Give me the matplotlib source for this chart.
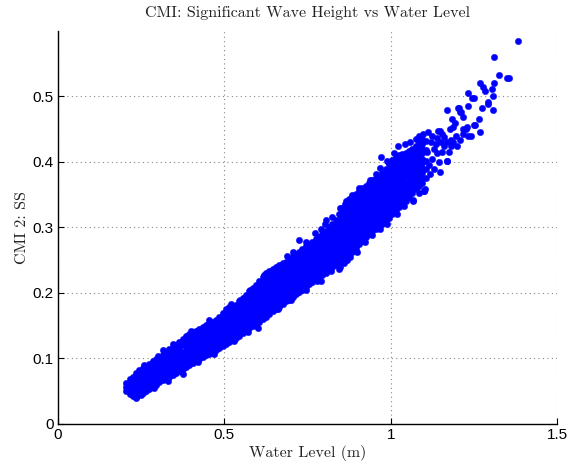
import matplotlib
matplotlib.use("Agg")
import matplotlib.pyplot as plt

# ---------------- data ----------------
title = "CMI: Significant Wave Height vs Water Level"
x_label = "Water Level (m)"
y_label = "CMI 2: SS"
x_ticks = [0, 0.5, 1, 1.5]
x_tick_labels = ["0", "0.5", "1", "1.5"]
y_ticks = [0, 0.1, 0.2, 0.3, 0.4, 0.5]
y_tick_labels = ["0", "0.1", "0.2", "0.3", "0.4", "0.5"]

# dense part of the cloud: water level of each column, and wave heights in it
band_x = [0.205, 0.215, 0.225, 0.235, 0.245, 0.255, 0.265, 0.275, 0.285, 0.295,
          0.305, 0.315, 0.325, 0.335, 0.345, 0.355, 0.365, 0.375, 0.385, 0.395,
          0.405, 0.415, 0.425, 0.435, 0.445, 0.455, 0.465, 0.475, 0.485, 0.495,
          0.505, 0.515, 0.525, 0.535, 0.545, 0.555, 0.565, 0.575, 0.585, 0.595,
          0.605, 0.615, 0.625, 0.635, 0.645, 0.655, 0.665, 0.675, 0.685, 0.695,
          0.705, 0.715, 0.725, 0.735, 0.745, 0.755, 0.765, 0.775, 0.785, 0.795,
          0.805, 0.815, 0.825, 0.835, 0.845, 0.855, 0.865, 0.875, 0.885, 0.895,
          0.905, 0.915, 0.925, 0.935, 0.945, 0.955, 0.965, 0.975, 0.985, 0.995,
          1.005, 1.015, 1.025, 1.035, 1.045, 1.055, 1.065, 1.075, 1.085, 1.095,
          1.105]
band_y = [
    [0.050, 0.056, 0.062],
    [0.046, 0.054, 0.061, 0.068],
    [0.043, 0.051, 0.058, 0.065, 0.072],
    [0.041, 0.049, 0.057, 0.064, 0.071, 0.078],
    [0.046, 0.053, 0.060, 0.068, 0.075, 0.082],
    [0.048, 0.056, 0.063, 0.070, 0.078, 0.085],
    [0.051, 0.058, 0.066, 0.073, 0.081, 0.088],
    [0.054, 0.061, 0.069, 0.077, 0.085, 0.092],
    [0.057, 0.065, 0.073, 0.081, 0.089, 0.096],
    [0.060, 0.068, 0.076, 0.084, 0.092, 0.099],
    [0.064, 0.072, 0.080, 0.087, 0.095, 0.102],
    [0.067, 0.075, 0.083, 0.091, 0.099, 0.106],
    [0.069, 0.077, 0.085, 0.094, 0.102, 0.110],
    [0.072, 0.080, 0.089, 0.097, 0.106, 0.114],
    [0.075, 0.083, 0.092, 0.100, 0.109, 0.118],
    [0.078, 0.086, 0.095, 0.104, 0.112, 0.121],
    [0.081, 0.089, 0.098, 0.107, 0.116, 0.125],
    [0.084, 0.092, 0.101, 0.110, 0.120, 0.130],
    [0.087, 0.095, 0.103, 0.111, 0.119, 0.127, 0.134],
    [0.090, 0.098, 0.106, 0.114, 0.122, 0.130, 0.138],
    [0.093, 0.101, 0.109, 0.117, 0.125, 0.133, 0.140],
    [0.096, 0.104, 0.112, 0.119, 0.127, 0.135, 0.142],
    [0.099, 0.107, 0.114, 0.122, 0.130, 0.138, 0.145],
    [0.102, 0.110, 0.117, 0.125, 0.133, 0.141, 0.148],
    [0.105, 0.113, 0.120, 0.128, 0.136, 0.144, 0.151],
    [0.107, 0.115, 0.123, 0.131, 0.139, 0.147, 0.154],
    [0.110, 0.118, 0.125, 0.133, 0.141, 0.149, 0.156],
    [0.113, 0.121, 0.128, 0.136, 0.144, 0.152, 0.159],
    [0.116, 0.124, 0.132, 0.140, 0.148, 0.156, 0.164],
    [0.119, 0.127, 0.135, 0.144, 0.152, 0.161, 0.170],
    [0.122, 0.130, 0.138, 0.145, 0.153, 0.161, 0.169, 0.176],
    [0.125, 0.133, 0.140, 0.148, 0.156, 0.163, 0.171, 0.178],
    [0.128, 0.135, 0.143, 0.150, 0.158, 0.165, 0.173, 0.180],
    [0.132, 0.139, 0.146, 0.154, 0.161, 0.168, 0.175, 0.182],
    [0.135, 0.142, 0.150, 0.157, 0.165, 0.172, 0.180, 0.187],
    [0.139, 0.147, 0.154, 0.162, 0.169, 0.177, 0.184, 0.192],
    [0.142, 0.150, 0.158, 0.166, 0.173, 0.181, 0.189, 0.197],
    [0.146, 0.154, 0.162, 0.170, 0.178, 0.186, 0.195, 0.203],
    [0.150, 0.158, 0.166, 0.174, 0.182, 0.191, 0.199, 0.207],
    [0.153, 0.160, 0.168, 0.175, 0.183, 0.190, 0.197, 0.205, 0.212],
    [0.156, 0.164, 0.172, 0.179, 0.187, 0.195, 0.202, 0.210, 0.218],
    [0.160, 0.168, 0.176, 0.184, 0.192, 0.200, 0.208, 0.216, 0.224],
    [0.164, 0.172, 0.180, 0.189, 0.197, 0.205, 0.213, 0.222, 0.230],
    [0.168, 0.176, 0.184, 0.193, 0.201, 0.209, 0.217, 0.226, 0.234],
    [0.172, 0.180, 0.188, 0.196, 0.204, 0.213, 0.221, 0.229, 0.237],
    [0.176, 0.184, 0.192, 0.200, 0.208, 0.216, 0.224, 0.232, 0.240],
    [0.179, 0.187, 0.195, 0.203, 0.211, 0.218, 0.226, 0.234, 0.242],
    [0.183, 0.191, 0.199, 0.206, 0.214, 0.222, 0.229, 0.237, 0.245],
    [0.187, 0.195, 0.202, 0.210, 0.218, 0.225, 0.233, 0.240, 0.248],
    [0.190, 0.198, 0.206, 0.213, 0.221, 0.229, 0.237, 0.244, 0.252],
    [0.194, 0.202, 0.210, 0.217, 0.225, 0.233, 0.241, 0.248, 0.256],
    [0.198, 0.206, 0.213, 0.221, 0.229, 0.236, 0.244, 0.251, 0.259],
    [0.202, 0.210, 0.217, 0.225, 0.232, 0.240, 0.248, 0.255, 0.263],
    [0.205, 0.213, 0.221, 0.228, 0.236, 0.244, 0.252, 0.259, 0.267],
    [0.209, 0.217, 0.225, 0.232, 0.240, 0.248, 0.256, 0.263, 0.271],
    [0.213, 0.221, 0.229, 0.236, 0.244, 0.252, 0.260, 0.267, 0.275],
    [0.217, 0.225, 0.232, 0.240, 0.248, 0.255, 0.263, 0.270, 0.278],
    [0.221, 0.229, 0.236, 0.244, 0.252, 0.259, 0.267, 0.274, 0.282],
    [0.224, 0.232, 0.240, 0.247, 0.255, 0.263, 0.271, 0.278, 0.286],
    [0.228, 0.236, 0.244, 0.251, 0.259, 0.267, 0.275, 0.282, 0.290],
    [0.231, 0.239, 0.247, 0.255, 0.263, 0.270, 0.278, 0.286, 0.294],
    [0.235, 0.243, 0.251, 0.259, 0.268, 0.276, 0.284, 0.292, 0.300],
    [0.239, 0.246, 0.254, 0.261, 0.269, 0.276, 0.284, 0.291, 0.299, 0.306],
    [0.242, 0.250, 0.258, 0.265, 0.273, 0.281, 0.289, 0.296, 0.304, 0.312],
    [0.245, 0.253, 0.261, 0.270, 0.278, 0.287, 0.295, 0.303, 0.312, 0.320],
    [0.248, 0.256, 0.264, 0.273, 0.281, 0.289, 0.297, 0.305, 0.314, 0.322, 0.330],
    [0.251, 0.259, 0.267, 0.275, 0.283, 0.291, 0.300, 0.308, 0.316, 0.324, 0.332, 0.340],
    [0.256, 0.264, 0.272, 0.280, 0.288, 0.296, 0.303, 0.311, 0.319, 0.327, 0.335, 0.343],
    [0.262, 0.270, 0.278, 0.285, 0.293, 0.301, 0.309, 0.316, 0.324, 0.332, 0.340, 0.347],
    [0.268, 0.276, 0.283, 0.291, 0.298, 0.306, 0.313, 0.321, 0.328, 0.336, 0.343, 0.351],
    [0.274, 0.282, 0.289, 0.297, 0.304, 0.312, 0.319, 0.326, 0.333, 0.341, 0.348, 0.355],
    [0.280, 0.288, 0.296, 0.304, 0.312, 0.320, 0.328, 0.336, 0.344, 0.352, 0.360],
    [0.285, 0.293, 0.301, 0.309, 0.317, 0.325, 0.333, 0.341, 0.349, 0.357, 0.364],
    [0.290, 0.298, 0.306, 0.314, 0.322, 0.329, 0.337, 0.345, 0.353, 0.361, 0.368],
    [0.294, 0.302, 0.310, 0.318, 0.325, 0.333, 0.341, 0.349, 0.357, 0.364, 0.372],
    [0.298, 0.306, 0.314, 0.321, 0.329, 0.337, 0.344, 0.352, 0.360, 0.367, 0.375],
    [0.301, 0.309, 0.317, 0.324, 0.332, 0.340, 0.347, 0.355, 0.363, 0.370, 0.378],
    [0.305, 0.313, 0.321, 0.328, 0.336, 0.344, 0.352, 0.359, 0.367, 0.375, 0.383],
    [0.310, 0.318, 0.326, 0.334, 0.342, 0.350, 0.358, 0.366, 0.374, 0.382, 0.390],
    [0.315, 0.323, 0.331, 0.340, 0.348, 0.356, 0.364, 0.372, 0.381, 0.389, 0.397],
    [0.320, 0.328, 0.337, 0.345, 0.353, 0.361, 0.370, 0.378, 0.386, 0.395, 0.403],
    [0.326, 0.334, 0.342, 0.350, 0.358, 0.367, 0.375, 0.383, 0.391, 0.399, 0.407],
    [0.331, 0.339, 0.347, 0.355, 0.363, 0.371, 0.378, 0.386, 0.394, 0.402, 0.410],
    [0.336, 0.344, 0.351, 0.359, 0.367, 0.374, 0.382, 0.389, 0.397, 0.404, 0.412],
    [0.341, 0.349, 0.356, 0.363, 0.370, 0.378, 0.385, 0.392, 0.399, 0.407, 0.414],
    [0.346, 0.354, 0.362, 0.370, 0.378, 0.386, 0.394, 0.402, 0.410, 0.417],
    [0.352, 0.360, 0.367, 0.375, 0.382, 0.390, 0.397, 0.405, 0.412, 0.420],
    [0.358, 0.365, 0.373, 0.380, 0.388, 0.395, 0.403, 0.410, 0.418, 0.425],
    [0.363, 0.371, 0.378, 0.386, 0.393, 0.400, 0.408, 0.415, 0.423, 0.430],
    [0.368, 0.376, 0.383, 0.391, 0.398, 0.405, 0.413, 0.420, 0.428, 0.435],
    [0.375, 0.390, 0.402, 0.418, 0.432],
]

# scattered points (upper tail and stray points around the cloud)
sparse_x = [1.097, 1.112, 1.142, 1.168, 1.208, 1.202, 1.232, 1.184, 1.193, 1.187,
            1.178, 1.218, 1.229, 1.253, 1.268, 1.208, 1.232, 1.180, 1.180, 1.169,
            1.154, 1.139, 1.169, 1.148, 1.118, 1.103, 1.067, 1.383, 1.310, 1.325,
            1.350, 1.356, 1.311, 1.268, 1.277, 1.283, 1.305, 1.233, 1.244, 1.250,
            1.307, 1.292, 1.292, 1.308, 1.274, 1.205, 1.211, 1.217, 1.265, 1.241,
            1.187, 1.217, 1.226, 1.250, 1.148, 1.115, 1.125, 1.130, 1.120, 1.135,
            1.145, 1.155, 1.160, 1.125, 1.110, 1.140, 1.160, 1.175, 1.150, 1.130,
            1.195, 1.200, 0.234, 0.376, 0.316, 0.577, 0.600, 0.724, 0.806, 0.971,
            0.868, 0.848, 0.790, 1.100, 1.169, 0.845]
sparse_y = [0.442, 0.445, 0.447, 0.479, 0.477, 0.483, 0.485, 0.465, 0.460, 0.453,
            0.450, 0.450, 0.454, 0.457, 0.445, 0.434, 0.439, 0.434, 0.424, 0.430,
            0.442, 0.414, 0.402, 0.385, 0.381, 0.358, 0.342, 0.584, 0.561, 0.532,
            0.528, 0.528, 0.521, 0.520, 0.515, 0.509, 0.511, 0.505, 0.497, 0.497,
            0.500, 0.492, 0.489, 0.479, 0.483, 0.482, 0.476, 0.468, 0.465, 0.439,
            0.431, 0.442, 0.451, 0.456, 0.447, 0.395, 0.405, 0.420, 0.430, 0.428,
            0.400, 0.415, 0.425, 0.440, 0.415, 0.436, 0.438, 0.415, 0.430, 0.390,
            0.440, 0.425, 0.040, 0.077, 0.113, 0.205, 0.147, 0.281, 0.312, 0.407,
            0.250, 0.239, 0.219, 0.356, 0.401, 0.237]

# points sticking out along the upper and lower edges of the cloud
edge_x = [0.260, 0.300, 0.345, 0.400, 0.455, 0.520, 0.547, 0.620, 0.688, 0.705,
          0.745, 0.773, 0.790, 0.803, 0.825, 0.848, 0.862, 0.884, 0.905, 0.938,
          0.955, 0.968, 0.990, 1.010, 1.022, 1.043, 1.058, 1.075, 1.085,
          0.250, 0.290, 0.330, 0.420, 0.470, 0.530, 0.570, 0.660, 0.700, 0.745,
          0.780, 0.820, 0.860, 0.879, 0.899, 0.923, 0.945, 0.968, 0.989, 1.019,
          1.040, 1.067, 1.085, 1.100]
edge_y = [0.090, 0.104, 0.122, 0.142, 0.158, 0.183, 0.190, 0.228, 0.256, 0.262,
          0.278, 0.292, 0.298, 0.306, 0.316, 0.330, 0.336, 0.350, 0.360, 0.372,
          0.382, 0.391, 0.402, 0.414, 0.424, 0.427, 0.430, 0.435, 0.440,
          0.044, 0.055, 0.066, 0.094, 0.107, 0.127, 0.140, 0.175, 0.190, 0.205,
          0.218, 0.233, 0.246, 0.255, 0.262, 0.278, 0.288, 0.297, 0.305, 0.320,
          0.333, 0.341, 0.352, 0.356]

# ---------------- assemble ----------------
water_level = []
wave_height = []
for xv, ys in zip(band_x, band_y):
    for yv in ys:
        water_level.append(xv)
        wave_height.append(yv)
water_level += sparse_x + edge_x
wave_height += sparse_y + edge_y

# ---------------- figure ----------------
serif = ["cmr10", "DejaVu Serif"]
fig = plt.figure(figsize=(5.77, 4.69), dpi=100)
ax = fig.add_axes([0.1005, 0.096, 0.8648, 0.838])

ax.plot(water_level, wave_height, linestyle="none", marker="o",
        markersize=4.6, markerfacecolor=(0, 0, 1), markeredgecolor=(0, 0, 1),
        markeredgewidth=0.3, zorder=3)

ax.set_xlim(0, 1.5)
ax.set_ylim(0, 0.6)
ax.set_xticks(x_ticks)
ax.set_xticklabels(x_tick_labels, family="Liberation Sans", fontsize=11)
ax.set_yticks(y_ticks)
ax.set_yticklabels(y_tick_labels, family="Liberation Sans", fontsize=11)
ax.tick_params(direction="in", length=4, width=0.8, colors="black", pad=3)

ax.grid(True, linestyle=(0, (1, 3)), color="#888888", linewidth=0.8, zorder=0)
ax.set_axisbelow(True)

for side in ("top", "right"):
    ax.spines[side].set_visible(False)
for side in ("left", "bottom"):
    ax.spines[side].set_linewidth(1.0)
    ax.spines[side].set_color("black")

ax.set_title(title, family=serif, fontsize=11.5, color="#222222", pad=10)
ax.set_xlabel(x_label, family=serif, fontsize=11.5, color="#222222", labelpad=2)
ax.set_ylabel(y_label, family=serif, fontsize=11.5, color="#222222", labelpad=3)

fig.savefig("out.png", dpi=100)
